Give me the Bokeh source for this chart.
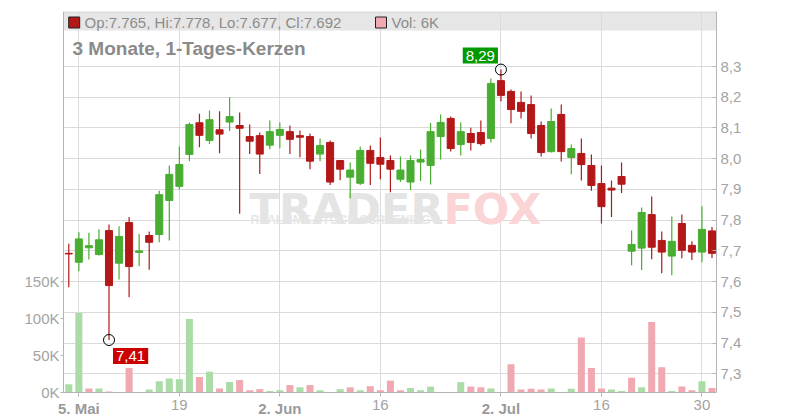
from bokeh.plotting import figure
from bokeh.models import (Range1d, LinearAxis, FixedTicker, CustomJSTickFormatter,
                          BoxAnnotation, Label)
from bokeh.core.properties import value
from bokeh.embed import file_html
from bokeh.resources import INLINE

# ---------------- data ----------------
dates = [
    "2025-05-02", "2025-05-05", "2025-05-06", "2025-05-07", "2025-05-08", "2025-05-09",
    "2025-05-12", "2025-05-13", "2025-05-14", "2025-05-15", "2025-05-16",
    "2025-05-19", "2025-05-20", "2025-05-21", "2025-05-22", "2025-05-23",
    "2025-05-26", "2025-05-27", "2025-05-28", "2025-05-29", "2025-05-30",
    "2025-06-02", "2025-06-03", "2025-06-04", "2025-06-05", "2025-06-06",
    "2025-06-09", "2025-06-10", "2025-06-11", "2025-06-12", "2025-06-13",
    "2025-06-16", "2025-06-17", "2025-06-18", "2025-06-19", "2025-06-20",
    "2025-06-23", "2025-06-24", "2025-06-25", "2025-06-26", "2025-06-27",
    "2025-06-30", "2025-07-01", "2025-07-02", "2025-07-03", "2025-07-04",
    "2025-07-07", "2025-07-08", "2025-07-09", "2025-07-10", "2025-07-11",
    "2025-07-14", "2025-07-15", "2025-07-16", "2025-07-17", "2025-07-18",
    "2025-07-21", "2025-07-22", "2025-07-23", "2025-07-24", "2025-07-25",
    "2025-07-28", "2025-07-29", "2025-07-30", "2025-07-31",
]
opens = [7.692, 7.663, 7.710, 7.688, 7.766, 7.660, 7.792, 7.695, 7.750, 7.753, 7.864,
         7.910, 8.014, 8.117, 8.059, 8.094, 8.119, 8.108, 8.072, 8.075, 8.044,
         8.076, 8.088, 8.075, 8.072, 8.015, 8.053, 7.994, 7.940, 7.920, 8.027,
         8.004, 7.994, 7.933, 7.924, 7.989, 7.978, 8.072, 8.131, 8.046, 8.082,
         8.085, 8.066, 8.254, 8.219, 8.183, 8.176, 8.108, 8.023, 8.144, 8.004,
         8.017, 7.978, 7.919, 7.904, 7.942, 7.699, 7.709, 7.818, 7.734, 7.683,
         7.789, 7.718, 7.696, 7.765]
highs = [7.723, 7.761, 7.759, 7.770, 7.786, 7.780, 7.810, 7.755, 7.763, 7.896, 7.978,
         8.040, 8.118, 8.146, 8.157, 8.154, 8.200, 8.150, 8.111, 8.085, 8.124,
         8.118, 8.108, 8.092, 8.082, 8.066, 8.059, 7.996, 7.988, 8.040, 8.043,
         8.069, 8.010, 8.007, 8.010, 8.030, 8.116, 8.144, 8.137, 8.118, 8.101,
         8.124, 8.261, 8.290, 8.225, 8.219, 8.206, 8.121, 8.163, 8.176, 8.046,
         8.066, 8.014, 7.978, 7.929, 7.988, 7.766, 7.841, 7.877, 7.763, 7.812,
         7.818, 7.731, 7.845, 7.778]
lows = [7.582, 7.634, 7.672, 7.685, 7.410, 7.607, 7.549, 7.650, 7.639, 7.728, 7.734,
        7.900, 7.992, 8.037, 8.048, 8.018, 8.090, 7.821, 8.015, 7.950, 8.031,
        8.034, 8.015, 8.005, 7.966, 7.992, 7.914, 7.930, 7.871, 7.914, 7.914,
        7.933, 7.891, 7.924, 7.898, 7.927, 7.916, 7.997, 8.023, 8.010, 8.027,
        8.043, 8.053, 8.186, 8.115, 8.131, 8.066, 8.007, 8.020, 7.991, 7.949,
        7.929, 7.896, 7.789, 7.810, 7.888, 7.653, 7.638, 7.673, 7.627, 7.621,
        7.676, 7.670, 7.663, 7.677]
closes = [7.690, 7.739, 7.717, 7.736, 7.587, 7.747, 7.649, 7.700, 7.728, 7.883, 7.949,
          7.981, 8.111, 8.076, 8.127, 8.080, 8.137, 8.099, 8.057, 8.015, 8.088,
          8.095, 8.063, 8.070, 7.992, 8.043, 7.924, 7.966, 7.963, 8.027, 7.985,
          7.982, 7.966, 7.963, 7.994, 7.997, 8.088, 8.118, 8.033, 8.088, 8.053,
          8.049, 8.245, 8.206, 8.160, 8.154, 8.082, 8.020, 8.121, 8.023, 8.033,
          7.981, 7.913, 7.844, 7.898, 7.917, 7.721, 7.825, 7.712, 7.696, 7.731,
          7.702, 7.696, 7.770, 7.692]
volumes = [11000, 107000, 5500, 5500, 1500, 0, 33000, 0, 4000, 15000, 19000,
           18000, 99000, 21000, 28000, 5500, 14000, 17000, 3000, 4500, 2000,
           3000, 10000, 7000, 10000, 3000, 0, 4500, 7000, 3000, 8500,
           3000, 16000, 3000, 6000, 3000, 8000, 0, 0, 14000, 8000,
           7000, 5500, 0, 38000, 4000, 5000, 4000, 5500, 0, 5000,
           74000, 33000, 5500, 4000, 2000, 20000, 7000, 95000, 34000, 2000,
           8000, 3000, 15000, 6000]

tick_dates = ["2025-05-05", "2025-05-19", "2025-06-02", "2025-06-16",
              "2025-07-02", "2025-07-16", "2025-07-30"]
tick_labels = ["5. Mai", "19", "2. Jun", "16", "2. Jul", "16", "30"]
tick_bold = [True, False, True, False, True, False, False]
price_ticks = [7.3, 7.4, 7.5, 7.6, 7.7, 7.8, 7.9, 8.0, 8.1, 8.2, 8.3]
vol_ticks = [0, 50000, 100000, 150000]
title_text = "3 Monate, 1-Tages-Kerzen"

# ---------------- styles / layout ----------------
GREEN, RED = "#48ad31", "#b31717"
VGREEN, VRED = "#abdca7", "#f0a8b1"
FONT = "Liberation Sans"
TICK_COLOR = "#a3a3a3"
AXIS_COLOR = "#b4b4b4"
GRID = "#dadada"

W, H = 800, 420
FL, FR, FT, FB = 0, 716, 11, 420       # drawing frame (pixels)
PLOT_L = 63                             # pixel column of the volume axis
AXIS_Y = 392                            # pixel row of the date axis
IDX0_PX, PX_PER_IDX = 68.3, 10.05       # first candle position / spacing
PX_PER_PRICE = 307.3                    # pixels per 1.0 price unit
PX_PER_VOL = 0.742 / 1000               # pixels per share
X0 = (FL - IDX0_PX) / PX_PER_IDX
X1 = (FR - IDX0_PX) / PX_PER_IDX
Y1 = 8.3 + (66 - FT) / PX_PER_PRICE
Y0 = 8.3 - (FB - 66) / PX_PER_PRICE
V1 = (AXIS_Y - FT) / PX_PER_VOL
V0 = -(FB - AXIS_Y) / PX_PER_VOL


def xp(px):
    return X0 + (px - FL) / (FR - FL) * (X1 - X0)


def yp(py):
    return Y1 - (py - FT) / (FB - FT) * (Y1 - Y0)


idx = list(range(len(dates)))
tick_idx = [dates.index(d) for d in tick_dates]
cand_col = [GREEN if c > o else RED for o, c in zip(opens, closes)]
vol_col = [VGREEN if (i == 0 or closes[i] >= closes[i - 1]) else VRED for i in idx]
body_top = [max(o, c) for o, c in zip(opens, closes)]
body_bot = [min(o, c) for o, c in zip(opens, closes)]

p = figure(width=W, height=H, output_backend="svg", toolbar_location=None,
           x_range=Range1d(X0, X1), y_range=Range1d(Y0, Y1),
           y_axis_location="right", title=None,
           min_border_left=FL, min_border_right=W - FR,
           min_border_top=FT, min_border_bottom=H - FB)
p.extra_y_ranges = {"vol": Range1d(V0, V1)}
p.outline_line_color = None
p.background_fill_color = "white"
p.border_fill_color = "white"

# grids
p.xgrid.ticker = FixedTicker(ticks=tick_idx)
p.ygrid.ticker = FixedTicker(ticks=price_ticks)
p.xgrid.grid_line_color = GRID
p.ygrid.grid_line_color = GRID

# right price axis
ra = p.yaxis[0]
ra.ticker = FixedTicker(ticks=price_ticks)
ra.formatter = CustomJSTickFormatter(code="return tick.toFixed(1).replace('.', ',');")
ra.bounds = (yp(AXIS_Y), Y1)
ra.major_tick_in = 4
ra.major_tick_out = 0
ra.minor_tick_in = 0
ra.minor_tick_out = 0
ra.major_label_standoff = 4
ra.axis_line_color = AXIS_COLOR
ra.major_tick_line_color = AXIS_COLOR
ra.major_label_text_color = TICK_COLOR
ra.major_label_text_font = FONT
ra.major_label_text_font_size = "15px"

# left volume axis (drawn at the left edge of the price/volume area)
la = LinearAxis(y_range_name="vol", ticker=FixedTicker(ticks=vol_ticks),
                formatter=CustomJSTickFormatter(code="return (tick/1000).toFixed(0) + 'K';"))
la.fixed_location = xp(PLOT_L)
la.bounds = (0, V1)
la.major_tick_in = 0
la.major_tick_out = 3
la.minor_tick_in = 0
la.minor_tick_out = 0
la.major_label_standoff = 1
la.axis_line_color = AXIS_COLOR
la.major_tick_line_color = AXIS_COLOR
la.major_label_text_color = TICK_COLOR
la.major_label_text_font = FONT
la.major_label_text_font_size = "15px"
p.add_layout(la, "left")

# bottom date axis (drawn at the bottom of the price/volume area)
xa = p.xaxis[0]
xa.fixed_location = yp(AXIS_Y)
xa.bounds = (xp(PLOT_L), X1)
xa.ticker = FixedTicker(ticks=tick_idx)
reg_labels = ["" if b else t for t, b in zip(tick_labels, tick_bold)]
xa.formatter = CustomJSTickFormatter(args=dict(pos=tick_idx, txt=reg_labels),
                                     code="const i = pos.indexOf(Math.round(tick)); return i >= 0 ? txt[i] : '';")
xa.major_tick_in = 0
xa.major_tick_out = 4
xa.minor_tick_in = 0
xa.minor_tick_out = 0
xa.major_label_standoff = 3
xa.axis_line_color = AXIS_COLOR
xa.major_tick_line_color = AXIS_COLOR
xa.major_label_text_color = TICK_COLOR
xa.major_label_text_font = FONT
xa.major_label_text_font_size = "15px"

# white margins outside the price/volume area (hide grid lines there)
p.add_layout(BoxAnnotation(top=yp(AXIS_Y), fill_color="white", fill_alpha=1.0,
                           line_color=None, level="glyph"))
p.add_layout(BoxAnnotation(right=xp(PLOT_L), fill_color="white", fill_alpha=1.0,
                           line_color=None, level="glyph"))

for t, lab, b in zip(tick_idx, tick_labels, tick_bold):
    if b:
        p.add_layout(Label(x=t, y=yp(AXIS_Y + 7), text=lab, text_align="center",
                           text_baseline="top", text_font=FONT, text_font_size="15px",
                           text_font_style="bold", text_color="#9a9a9a"))

# top border line
p.segment(x0=[xp(PLOT_L)], y0=[yp(FT + 0.5)], x1=[X1], y1=[yp(FT + 0.5)],
          line_color="#d4d4d4", line_width=1)

# watermark
p.text(x=[xp(443)], y=[yp(208)], text=["TRADER"], text_align="right", text_baseline="alphabetic",
       text_font=value("DejaVu Sans"), text_font_style="bold", text_font_size="43px",
       text_color="#e4e4e4")
p.text(x=[xp(443)], y=[yp(208)], text=["FOX"], text_align="left", text_baseline="alphabetic",
       text_font=value("DejaVu Sans"), text_font_style="bold", text_font_size="43px",
       text_color="#fbd4d6")
p.text(x=[xp(250)], y=[yp(219)], text=["REALTIME STOCK SCREENING"], text_align="left",
       text_baseline="middle", text_font=value(FONT), text_font_style="bold",
       text_font_size="12px", text_color="#e6e6e6")

# legend band
p.add_layout(BoxAnnotation(left=xp(PLOT_L), bottom=yp(30), fill_color="#dcdcdc", fill_alpha=0.7,
                           line_color=None, level="underlay"))

# volume
p.vbar(x=idx, width=0.7, top=volumes, bottom=0, fill_color=vol_col, line_color=None,
       y_range_name="vol")

# candles
p.segment(x0=idx, y0=lows, x1=idx, y1=highs, line_color=cand_col, line_width=1.2)
p.vbar(x=idx, width=0.7, top=body_top, bottom=body_bot, fill_color=cand_col,
       line_color=cand_col, line_width=1)

# extreme markers
lo_i = lows.index(min(lows))
hi_i = highs.index(max(highs))
p.scatter(x=[lo_i, hi_i], y=[lows[lo_i], highs[hi_i]], marker="circle", size=11,
          fill_color="white", fill_alpha=0.0, line_color="black", line_width=1)
p.add_layout(Label(x=lo_i, y=lows[lo_i], x_offset=4, y_offset=-8,
                   text=f"{lows[lo_i]:.2f}".replace(".", ","), text_align="left",
                   text_baseline="top", text_font=FONT, text_font_size="15px",
                   text_color="white", background_fill_color="#cc0000", padding=3))
p.add_layout(Label(x=hi_i, y=highs[hi_i], x_offset=-3, y_offset=6,
                   text=f"{highs[hi_i]:.2f}".replace(".", ","), text_align="right",
                   text_baseline="bottom", text_font=FONT, text_font_size="15px",
                   text_color="white", background_fill_color="#009a00", padding=3))

# legend content
p.scatter(x=[xp(73.7), xp(380.5)], y=[yp(22), yp(22)], marker="square", size=11,
          fill_color=[RED, VRED], line_color="#222222", line_width=1)
p.add_layout(Label(x=xp(84), y=yp(21.5),
                   text=f"Op:{opens[-1]:.3f}, Hi:{highs[-1]:.3f}, Lo:{lows[-1]:.3f}, Cl:{closes[-1]:.3f}",
                   text_baseline="middle", text_font=FONT, text_font_size="15px",
                   text_color="#8c8c8c"))
p.add_layout(Label(x=xp(391), y=yp(21.5), text=f"Vol: {volumes[-1] / 1000:.0f}K",
                   text_baseline="middle", text_font=FONT, text_font_size="15px",
                   text_color="#8c8c8c"))

# title
p.add_layout(Label(x=xp(72), y=yp(48), text=title_text, text_baseline="middle",
                   text_font=FONT, text_font_size="19px", text_font_style="bold",
                   text_color="#8a8a8a"))

open("out.html", "w").write(file_html(p, INLINE))
